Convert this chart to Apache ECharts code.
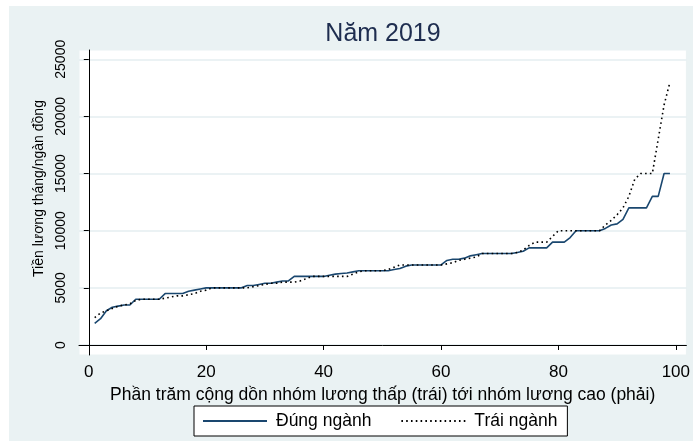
<!DOCTYPE html>
<html>
<head>
<meta charset="utf-8">
<script src="https://cdn.jsdelivr.net/npm/echarts@6/dist/echarts.min.js"></script>
<style>
  html, body { margin: 0; background: #fff; }
  #chart { position: absolute; left: 9px; top: 6px; width: 684px; height: 435px; }
</style>
</head>
<body>
<div id="chart"></div>
<script>
// phần trăm cộng dồn (1..99)
const pct = [
  1, 2, 3, 4, 5, 6, 7, 8, 9, 10,
  11, 12, 13, 14, 15, 16, 17, 18, 19, 20,
  21, 22, 23, 24, 25, 26, 27, 28, 29, 30,
  31, 32, 33, 34, 35, 36, 37, 38, 39, 40,
  41, 42, 43, 44, 45, 46, 47, 48, 49, 50,
  51, 52, 53, 54, 55, 56, 57, 58, 59, 60,
  61, 62, 63, 64, 65, 66, 67, 68, 69, 70,
  71, 72, 73, 74, 75, 76, 77, 78, 79, 80,
  81, 82, 83, 84, 85, 86, 87, 88, 89, 90,
  91, 92, 93, 94, 95, 96, 97, 98, 99
]
// Đúng ngành
const dungNganh = [
  1900, 2300, 3000, 3300, 3400, 3500, 3500, 4000, 4000, 4000,
  4000, 4000, 4500, 4500, 4500, 4500, 4700, 4800, 4900, 5000,
  5000, 5000, 5000, 5000, 5000, 5000, 5200, 5200, 5300, 5400,
  5400, 5500, 5600, 5600, 6000, 6000, 6000, 6000, 6000, 6000,
  6100, 6200, 6250, 6300, 6400, 6500, 6500, 6500, 6500, 6500,
  6500, 6600, 6700, 6900, 7000, 7000, 7000, 7000, 7000, 7000,
  7400, 7500, 7500, 7600, 7800, 7900, 8000, 8000, 8000, 8000,
  8000, 8000, 8100, 8200, 8500, 8500, 8500, 8500, 9000, 9000,
  9000, 9400, 10000, 10000, 10000, 10000, 10000, 10200, 10500, 10600,
  11000, 12000, 12000, 12000, 12000, 13000, 13000, 15000, 15000
]
// Trái ngành
const traiNganh = [
  2400, 2800, 3000, 3200, 3400, 3500, 3600, 3900, 4000, 4000,
  4000, 4000, 4100, 4200, 4300, 4300, 4400, 4500, 4700, 4800,
  5000, 5000, 5000, 5000, 5000, 5000, 5000, 5100, 5200, 5300,
  5400, 5400, 5500, 5500, 5500, 5600, 5800, 6000, 6000, 6000,
  6000, 6000, 6000, 6000, 6200, 6400, 6500, 6500, 6500, 6500,
  6600, 6800, 7000, 7000, 7000, 7000, 7000, 7000, 7000, 7000,
  7100, 7200, 7400, 7500, 7600, 7700, 8000, 8000, 8000, 8000,
  8000, 8000, 8100, 8300, 8700, 9000, 9000, 9000, 9500, 10000,
  10000, 10000, 10000, 10000, 10000, 10000, 10000, 10500, 10900, 11400,
  12000, 13000, 14500, 15000, 15000, 15000, 18000, 21000, 23000
]
const xTicks = [0, 20, 40, 60, 80, 100]
const yTicks = [0, 5000, 10000, 15000, 20000, 25000]

const font = 'Arial, "Liberation Sans", sans-serif'
const myChart = echarts.init(document.getElementById('chart'))
myChart.setOption({
  backgroundColor: '#EAF2F3',
  textStyle: { fontFamily: font },
  title: {
    text: 'Năm 2019',
    left: 374,
    top: 16,
    textAlign: 'center',
    padding: 0,
    textStyle: { fontSize: 25, fontWeight: 'normal', color: '#1E2D4F', fontFamily: font }
  },
  grid: {
    left: 70, right: 6, top: 44, bottom: 86,
    show: true, backgroundColor: '#fff', borderColor: '#EAF2F3', borderWidth: 1
  },
  xAxis: {
    type: 'value',
    min: -1.67,
    max: 101.8,
    name: 'Phần trăm cộng dồn nhóm lương thấp (trái) tới nhóm lương cao (phải)',
    nameLocation: 'middle',
    nameGap: 24,
    nameTextStyle: { fontSize: 17.5, color: '#000' },
    axisLine: { lineStyle: { color: '#000', width: 1 } },
    axisTick: { length: 5, customValues: xTicks, lineStyle: { color: '#000' } },
    axisLabel: { customValues: xTicks, fontSize: 17, color: '#000', margin: 9 },
    splitLine: { show: false }
  },
  yAxis: {
    type: 'value',
    min: -875,
    max: 25810,
    name: 'Tiền lương tháng/ngàn đồng',
    nameLocation: 'middle',
    nameGap: 32,
    nameTextStyle: { fontSize: 14, color: '#000', padding: [0, 0, 0, 28] },
    axisLine: { show: true, lineStyle: { color: '#000', width: 1 } },
    axisTick: { show: true, length: 5, customValues: yTicks, lineStyle: { color: '#000' } },
    axisLabel: { customValues: yTicks, rotate: 90, fontSize: 14, color: '#000', margin: 11, formatter: v => String(v) },
    splitLine: { show: true, lineStyle: { color: '#E4EEF1', width: 1.5 } }
  },
  legend: {
    left: 185,
    top: 400,
    backgroundColor: '#fff',
    borderColor: '#000',
    borderWidth: 1,
    borderRadius: 0,
    padding: [6, 10, 6, 8],
    itemGap: 29,
    itemWidth: 64,
    itemHeight: 14,
    itemStyle: { opacity: 0 },
    textStyle: { fontSize: 17.5, color: '#000', padding: [0, 0, 0, 4] },
    data: ['Đúng ngành', 'Trái ngành']
  },
  series: [
    {
      name: 'Đúng ngành',
      type: 'line',
      symbol: 'none',
      data: pct.map((p, i) => [p, dungNganh[i]]),
      lineStyle: { color: '#1A476F', width: 1.6 },
      itemStyle: { color: '#1A476F' }
    },
    {
      name: 'Trái ngành',
      type: 'line',
      symbol: 'none',
      data: pct.map((p, i) => [p, traiNganh[i]]),
      lineStyle: { color: '#000', width: 1.6, type: [1.6, 3.2] },
      itemStyle: { color: '#000' }
    }
  ]
})
</script>
</body>
</html>
